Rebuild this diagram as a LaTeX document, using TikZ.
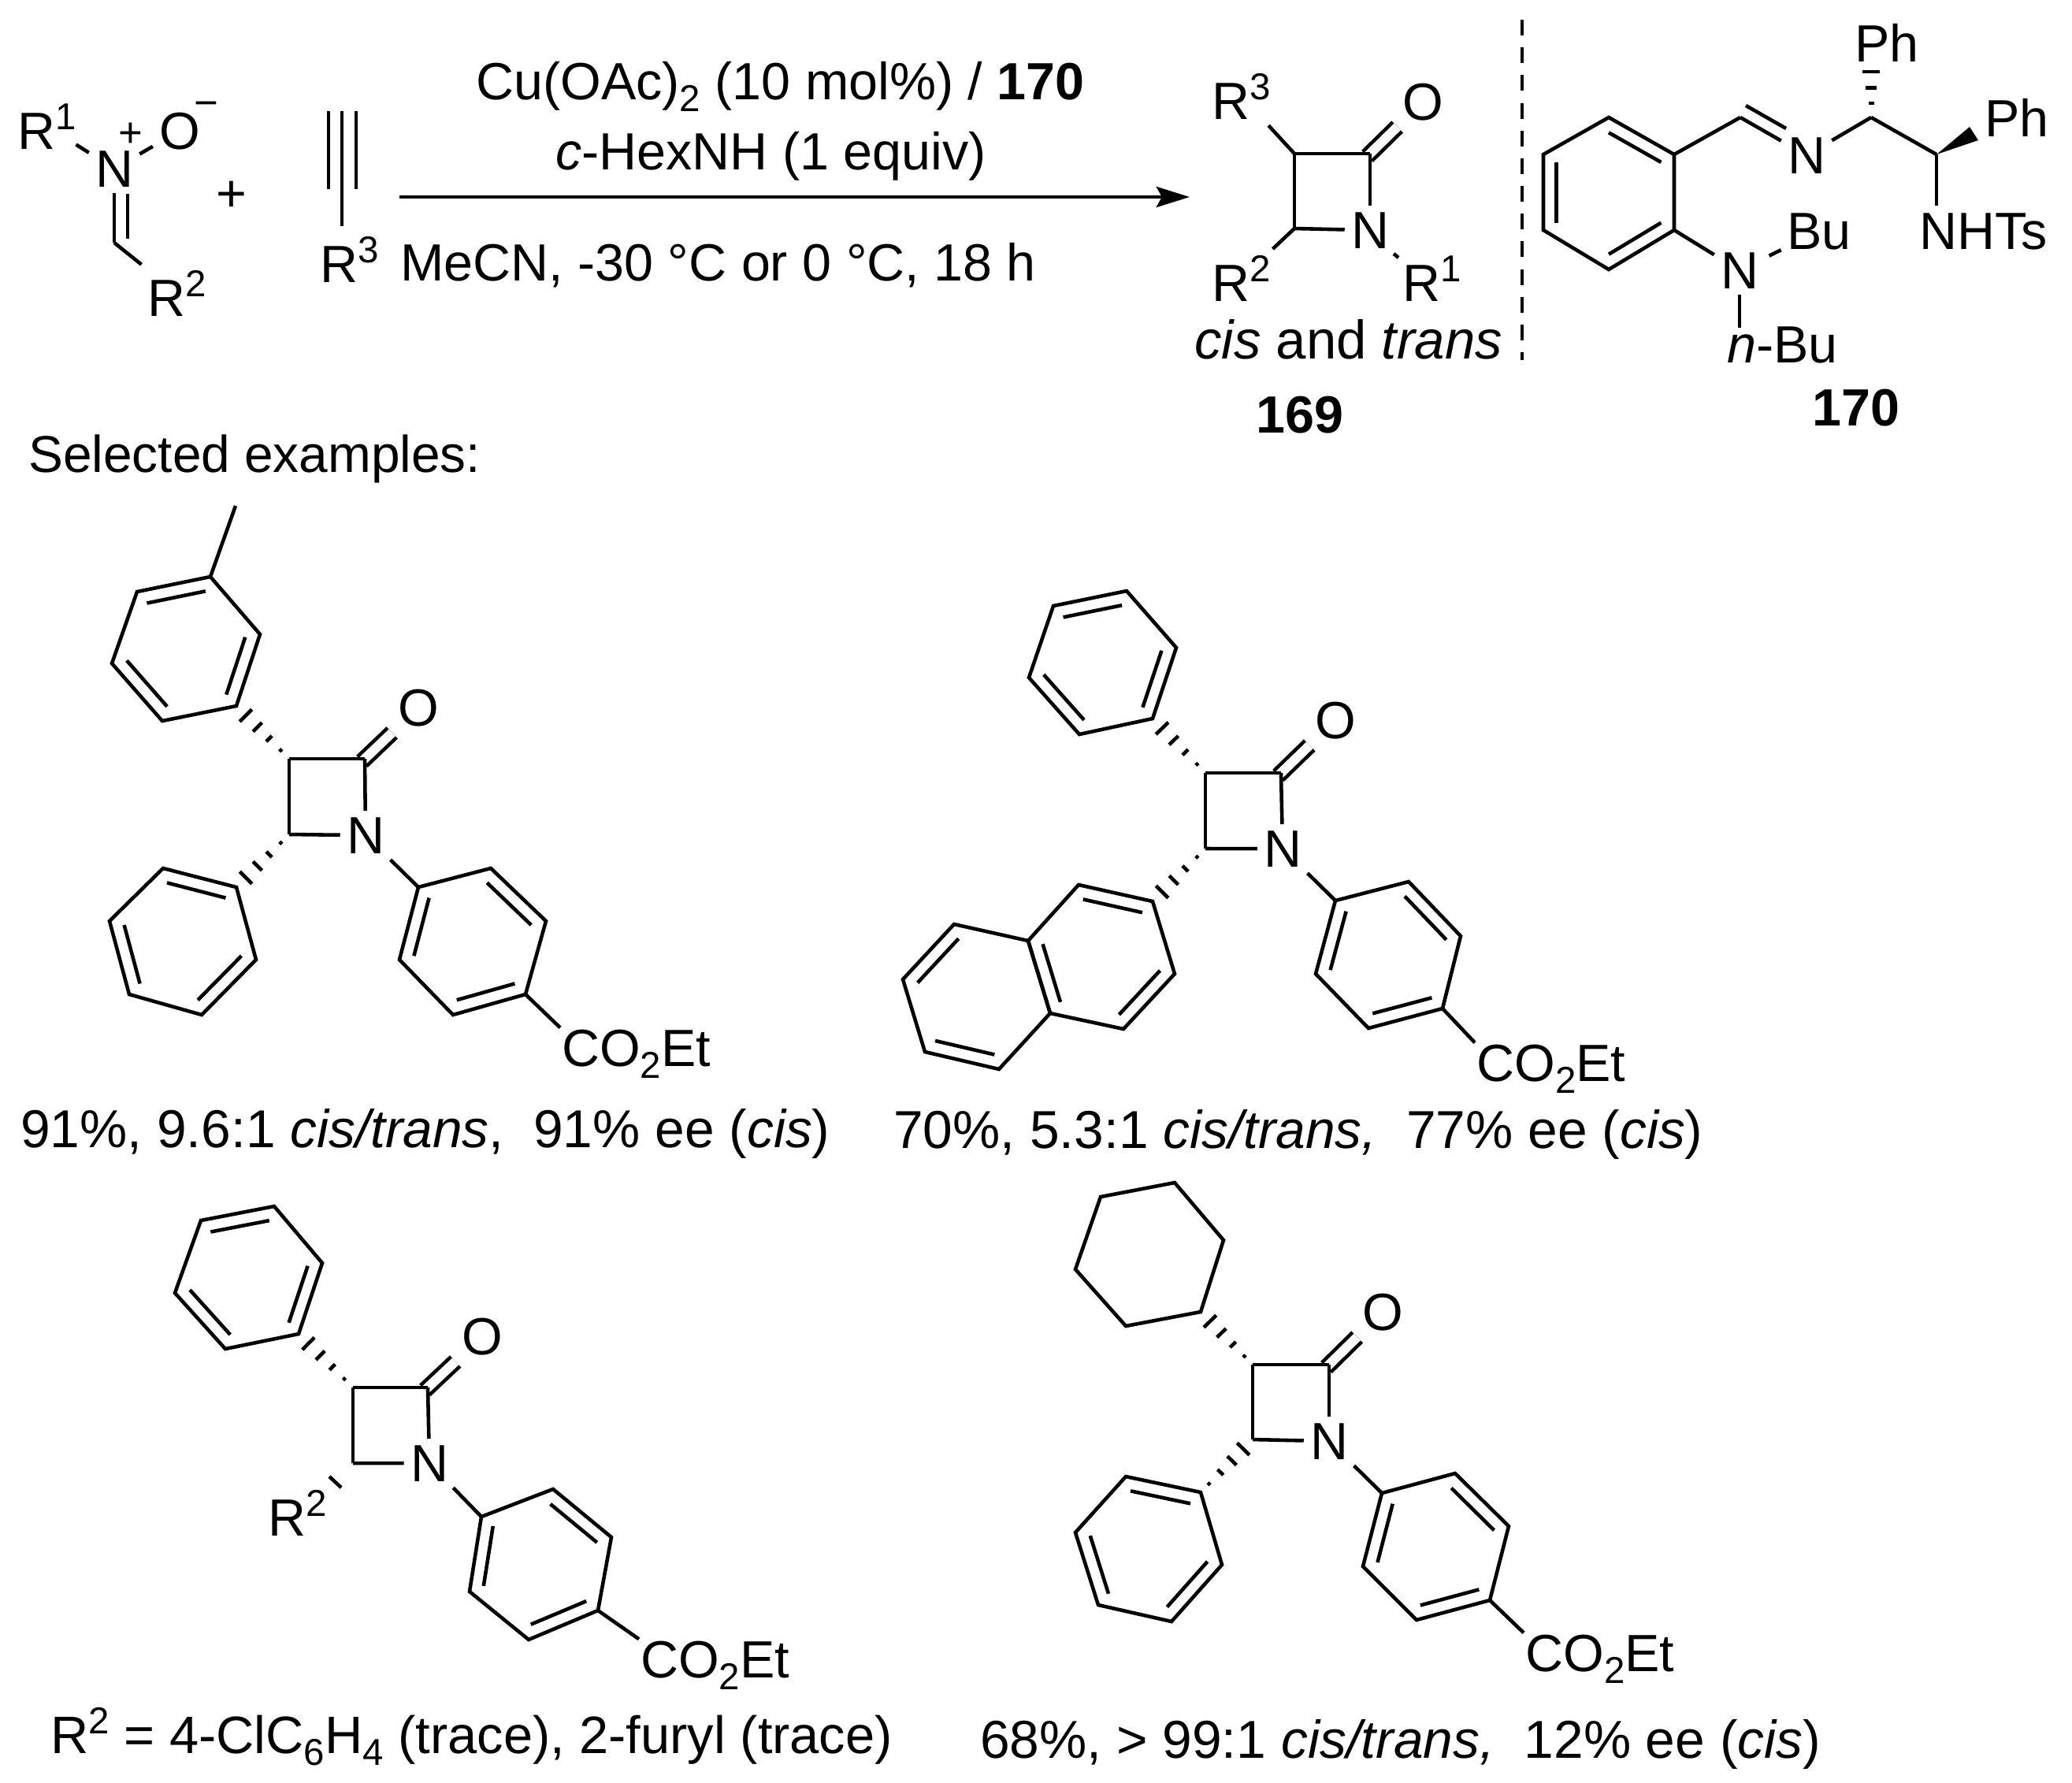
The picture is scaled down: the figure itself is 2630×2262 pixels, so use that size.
\documentclass[tikz,border=0pt]{standalone}
\usepackage{fontspec}
\setmainfont{Liberation Sans}
\usetikzlibrary{arrows.meta,calc}
\newcommand{\lblfont}{\fontsize{18.9}{22}\selectfont}
\newcommand{\capfont}{\fontsize{19.25}{22}\selectfont}
\newcommand{\supnum}[1]{\raisebox{7pt}{\fontsize{13.5}{13.5}\selectfont #1}}
\newcommand{\subnum}[1]{\raisebox{-4.5pt}{\fontsize{13.5}{13.5}\selectfont #1}}
\newcommand{\ring}[1]{
  \coordinate (#10) at ($(#11)!.5!(#14)$);
  \draw (#11) -- (#12) -- (#13) -- (#14) -- (#15) -- (#16) -- cycle;
}
\newcommand{\inbond}[3]{\draw ($(#10)!.8!(#1#2)$) -- ($(#10)!.8!(#1#3)$);}
\newcommand{\hashbond}[3][.16,.38,.6,.82]{
  \foreach \t in {#1}
    \draw ($(#2)!\t!(#3)!{\t*3.8pt}!90:(#3)$) -- ($(#2)!\t!(#3)!{\t*3.8pt}!-90:(#3)$);
}
\newcommand{\carbonyl}[2]{\draw[double distance=3.4pt,shorten <=-1.4pt] (#1) to (#2);}
\tikzset{
  atomlbl/.style={inner sep=1.7pt,anchor=base,font=\lblfont},
  txtlbl/.style={inner sep=0pt,anchor=base west,font=\lblfont},
  caplbl/.style={inner sep=0pt,anchor=base west,font=\capfont},
  chglbl/.style={inner sep=0pt,anchor=base,font=\fontsize{15}{15}\selectfont},
}
\begin{document}
\begin{tikzpicture}[x=0.01cm,y=-0.01cm,line width=1.3pt]
  \useasboundingbox (0,0) rectangle (2630,2262);

  \node[atomlbl] (Rone) at (60,189) {R\supnum{1}};
  \node[atomlbl] (Nox) at (145,237) {N};
  \node[atomlbl] (Oox) at (228,189) {O};
  \node[atomlbl] (Rtwo) at (225,401) {R\supnum{2}};
  \node[chglbl] (nplus) at (166,186) {+};
  \node[chglbl] (ominus) at (262,148) {−};
  \node[atomlbl] (plus) at (294,268) {+};
  \node[atomlbl] (Ralk) at (444,358) {R\supnum{3}};
  \draw
    (145,308) coordinate (nC)
    (162,246) coordinate (nbA)
    (162,303) coordinate (nbB)
    (417,141) coordinate (alA)
    (417,240) coordinate (alB)
    (434,141) coordinate (alC)
    (434,287) coordinate (alD)
    (452,141) coordinate (alE)
    (452,240) coordinate (alF)
    (507,250) coordinate (arrowL)
    (1510,250) coordinate (arrowR)
    (1932,25) coordinate (sepT)
    (1932,457) coordinate (sepB);
  \draw[shorten <=-3pt] (Rone) to (Nox);
  \draw (Nox) to (Oox);
  \draw (Nox) to (nC);
  \draw (nbA) to (nbB);
  \draw (nC) to (Rtwo);
  \draw (alA) to (alB);
  \draw (alC) to (alD);
  \draw (alE) to (alF);
  \draw[-{Stealth[length=12pt,width=7.4pt,inset=2pt]}] (arrowL) to (arrowR);
  \draw[line width=1pt,dash pattern=on 5.7pt off 4.3pt] (sepT) to (sepB);

  \node[txtlbl] (condA) at (602,126) {Cu(OAc)\subnum{2} (10 mol\%) / \textbf{170}};
  \node[txtlbl] (condB) at (703,215) {\textit{c}-HexNH (1 equiv)};
  \node[txtlbl] (condC) at (506,356) {MeCN, -30 °C or 0 °C, 18 h};
  \node[txtlbl,font=\fontsize{18.7}{22}\selectfont] (select) at (34,599) {Selected examples:};

  \node[atomlbl] (Rthr) at (1576,151) {R\supnum{3}};
  \node[atomlbl] (Rsec) at (1576,382) {R\supnum{2}};
  \node[atomlbl] (Rfst) at (1818,382) {R\supnum{1}};
  \node[atomlbl] (Npr) at (1739,315) {N};
  \node[atomlbl] (Opr) at (1806,152) {O};
  \node[txtlbl,font=\fontsize{19.6}{22}\selectfont] (cistrans) at (1514,455) {\textit{cis} and \textit{trans}};
  \node[txtlbl] (prodnum) at (1592,549) {\textbf{169}};
  \draw
    (1643,195) coordinate (c3p)
    (1739,195) coordinate (c2p)
    (1643,290) coordinate (c4p)
    (1769,322) coordinate (nrA)
    (1775,327) coordinate (nrB);
  \carbonyl{c2p}{Opr}
  \draw (c3p) to (c2p);
  \draw (c3p) to (c4p);
  \draw (c2p) to (Npr);
  \draw (c4p) to (Npr);
  \draw (c3p) to (Rthr);
  \draw (c4p) to (Rsec);
  \draw (nrA) to (nrB);

  \node[atomlbl] (Nim) at (2293,220) {N};
  \node[atomlbl] (Nam) at (2208,366) {N};
  \node[txtlbl] (Phtop) at (2352,78) {Ph};
  \node[txtlbl] (Phrgt) at (2517,173) {Ph};
  \node[txtlbl] (NHTs) at (2434,316) {NHTs};
  \node[atomlbl,inner sep=0pt] (Bu) at (2309,316) {Bu};
  \node[txtlbl] (nBu) at (2190,460) {\textit{n}-Bu};
  \node[txtlbl] (ligandnum) at (2298,540) {\textbf{170}};
  \draw
    (2042,149) coordinate (z1)
    (2125,196) coordinate (z2)
    (2125,292) coordinate (z3)
    (2042,342) coordinate (z4)
    (1959,292) coordinate (z5)
    (1959,196) coordinate (z6)
    (2209,149) coordinate (imC)
    (2216,134) coordinate (imCb)
    (2267,163) coordinate (imNb)
    (2375,149) coordinate (cPh)
    (2375,80) coordinate (cPhtop)
    (2458,196) coordinate (cNH)
    (2500,161) coordinate (wdgA)
    (2511,178) coordinate (wdgB)
    (2458,261) coordinate (nhEnd)
    (2208,416) coordinate (nbuEnd);
  \ring{z}
  \inbond{z}{1}{2}
  \inbond{z}{3}{4}
  \inbond{z}{5}{6}
  \draw (z2) to (imC);
  \draw (imC) to (Nim);
  \draw (imCb) to (imNb);
  \draw (Nim) to (cPh);
  \draw (cPh) to (cNH);
  \draw (cNH) to (nhEnd);
  \draw (z3) to (Nam);
  \draw[shorten <=1.7pt,shorten >=1.7pt] (Nam) to (Bu);
  \draw (Nam) to (nbuEnd);
  \hashbond[.26,.54,.84]{cPh}{cPhtop}
  \fill (cNH) -- (wdgA) -- (wdgB) -- cycle;

  \node[atomlbl] (Na) at (464,1083) {N};
  \node[atomlbl] (Oa) at (531,921) {O};
  \node[txtlbl] (COa) at (711,1353) {CO\subnum{2}Et};
  \node[caplbl] (capa) at (24,1456) {91\%, 9.6:1 \textit{cis/trans},~ 91\% ee (\textit{cis})};
  \draw
    (367,963) coordinate (c3a)
    (463,963) coordinate (c2a)
    (367,1059) coordinate (c4a)
    (299,642) coordinate (mea)
    (267,732) coordinate (ta1)
    (330,805) coordinate (ta2)
    (300,896) coordinate (ta3)
    (206,915) coordinate (ta4)
    (142,842) coordinate (ta5)
    (174,751) coordinate (ta6)
    (300,1126) coordinate (la1)
    (325,1218) coordinate (la2)
    (256,1288) coordinate (la3)
    (164,1262) coordinate (la4)
    (139,1169) coordinate (la5)
    (207,1102) coordinate (la6)
    (531,1126) coordinate (ra1)
    (623,1102) coordinate (ra2)
    (693,1169) coordinate (ra3)
    (667,1262) coordinate (ra4)
    (575,1288) coordinate (ra5)
    (507,1218) coordinate (ra6);
  \carbonyl{c2a}{Oa}
  \draw (c3a) to (c2a);
  \draw (c3a) to (c4a);
  \draw (c2a) to (Na);
  \draw (c4a) to (Na);
  \ring{ta}
  \inbond{ta}{6}{1}
  \inbond{ta}{2}{3}
  \inbond{ta}{4}{5}
  \draw (ta1) to (mea);
  \hashbond{c3a}{ta3}
  \ring{la}
  \inbond{la}{6}{1}
  \inbond{la}{2}{3}
  \inbond{la}{4}{5}
  \hashbond{c4a}{la1}
  \ring{ra}
  \inbond{ra}{1}{6}
  \inbond{ra}{2}{3}
  \inbond{ra}{4}{5}
  \draw (Na) to (ra1);
  \draw (ra4) to (COa.north west);

  \node[atomlbl] (Nb) at (1628,1100) {N};
  \node[atomlbl] (Ob) at (1695,937) {O};
  \node[txtlbl] (COb) at (1872,1372) {CO\subnum{2}Et};
  \node[caplbl] (capb) at (1132,1457) {70\%, 5.3:1 \textit{cis/trans,}~ 77\% ee (\textit{cis})};
  \draw
    (1530,981) coordinate (c3b)
    (1626,981) coordinate (c2b)
    (1530,1077) coordinate (c4b)
    (1430,750) coordinate (tb1)
    (1493,822) coordinate (tb2)
    (1463,912) coordinate (tb3)
    (1370,932) coordinate (tb4)
    (1306,860) coordinate (tb5)
    (1337,769) coordinate (tb6)
    (1463,1144) coordinate (lb1)
    (1491,1236) coordinate (lb2)
    (1426,1306) coordinate (lb3)
    (1333,1286) coordinate (lb4)
    (1305,1194) coordinate (lb5)
    (1369,1123) coordinate (lb6)
    (1305,1194) coordinate (mb1)
    (1333,1286) coordinate (mb2)
    (1268,1357) coordinate (mb3)
    (1174,1335) coordinate (mb4)
    (1146,1243) coordinate (mb5)
    (1211,1173) coordinate (mb6)
    (1695,1143) coordinate (rb1)
    (1788,1119) coordinate (rb2)
    (1854,1188) coordinate (rb3)
    (1831,1280) coordinate (rb4)
    (1737,1305) coordinate (rb5)
    (1670,1236) coordinate (rb6);
  \carbonyl{c2b}{Ob}
  \draw (c3b) to (c2b);
  \draw (c3b) to (c4b);
  \draw (c2b) to (Nb);
  \draw (c4b) to (Nb);
  \ring{tb}
  \inbond{tb}{6}{1}
  \inbond{tb}{2}{3}
  \inbond{tb}{4}{5}
  \hashbond{c3b}{tb3}
  \ring{lb}
  \inbond{lb}{6}{1}
  \inbond{lb}{2}{3}
  \inbond{lb}{4}{5}
  \ring{mb}
  \inbond{mb}{3}{4}
  \inbond{mb}{5}{6}
  \hashbond{c4b}{lb1}
  \ring{rb}
  \inbond{rb}{1}{6}
  \inbond{rb}{2}{3}
  \inbond{rb}{4}{5}
  \draw (Nb) to (rb1);
  \draw (rb4) to (COb.north west);

  \node[atomlbl] (Nc) at (545,1880) {N};
  \node[atomlbl] (Oc) at (612,1719) {O};
  \node[atomlbl] (Rc) at (378,1949) {R\supnum{2}};
  \node[txtlbl] (COc) at (811,2129) {CO\subnum{2}Et};
  \node[txtlbl,font=\fontsize{19}{22}\selectfont] (capc) at (62,2225) {R\supnum{2} = 4-ClC\subnum{6}H\subnum{4} (trace), 2-furyl (trace)};
  \draw
    (448,1761) coordinate (c3c)
    (543,1761) coordinate (c2c)
    (448,1857) coordinate (c4c)
    (418,1874) coordinate (hcA)
    (433,1888) coordinate (hcB)
    (348,1531) coordinate (tc1)
    (409,1603) coordinate (tc2)
    (379,1693) coordinate (tc3)
    (286,1712) coordinate (tc4)
    (222,1641) coordinate (tc5)
    (255,1549) coordinate (tc6)
    (611,1925) coordinate (rc1)
    (702,1890) coordinate (rc2)
    (776,1951) coordinate (rc3)
    (759,2044) coordinate (rc4)
    (671,2081) coordinate (rc5)
    (596,2020) coordinate (rc6);
  \carbonyl{c2c}{Oc}
  \draw (c3c) to (c2c);
  \draw (c3c) to (c4c);
  \draw (c2c) to (Nc);
  \draw (c4c) to (Nc);
  \draw (hcA) to (hcB);
  \ring{tc}
  \inbond{tc}{6}{1}
  \inbond{tc}{2}{3}
  \inbond{tc}{4}{5}
  \hashbond{c3c}{tc3}
  \ring{rc}
  \inbond{rc}{1}{6}
  \inbond{rc}{2}{3}
  \inbond{rc}{4}{5}
  \draw (Nc) to (rc1);
  \draw (rc4) to (COc.north west);

  \node[atomlbl] (Nd) at (1687,1852) {N};
  \node[atomlbl] (Od) at (1755,1688) {O};
  \node[txtlbl] (COd) at (1934,2121) {CO\subnum{2}Et};
  \node[caplbl] (capd) at (1242,2231) {68\%, > 99:1 \textit{cis/trans,}~ 12\% ee (\textit{cis})};
  \draw
    (1590,1732) coordinate (c3d)
    (1687,1732) coordinate (c2d)
    (1590,1827) coordinate (c4d)
    (1491,1501) coordinate (td1)
    (1553,1574) coordinate (td2)
    (1524,1665) coordinate (td3)
    (1429,1683) coordinate (td4)
    (1365,1611) coordinate (td5)
    (1397,1519) coordinate (td6)
    (1524,1894) coordinate (ld1)
    (1551,1986) coordinate (ld2)
    (1487,2058) coordinate (ld3)
    (1394,2037) coordinate (ld4)
    (1365,1945) coordinate (ld5)
    (1429,1874) coordinate (ld6)
    (1754,1895) coordinate (rd1)
    (1847,1870) coordinate (rd2)
    (1915,1937) coordinate (rd3)
    (1891,2031) coordinate (rd4)
    (1798,2056) coordinate (rd5)
    (1730,1988) coordinate (rd6);
  \carbonyl{c2d}{Od}
  \draw (c3d) to (c2d);
  \draw (c3d) to (c4d);
  \draw (c2d) to (Nd);
  \draw (c4d) to (Nd);
  \ring{td}
  \hashbond{c3d}{td3}
  \ring{ld}
  \inbond{ld}{6}{1}
  \inbond{ld}{2}{3}
  \inbond{ld}{4}{5}
  \hashbond{ld1}{c4d}
  \ring{rd}
  \inbond{rd}{1}{6}
  \inbond{rd}{2}{3}
  \inbond{rd}{4}{5}
  \draw (Nd) to (rd1);
  \draw (rd4) to (COd.north west);
\end{tikzpicture}
\end{document}
